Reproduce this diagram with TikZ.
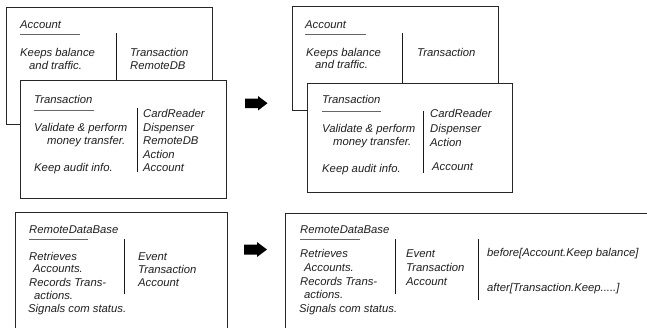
\documentclass[tikz,border=0pt]{standalone}
\usepackage{fontspec}
\setmainfont{Liberation Sans}
\begin{document}
\begin{tikzpicture}[x=1pt,y=-1pt,
  card/.style={draw=black!85, line width=0.9pt, fill=white},
  txt/.style={anchor=base west, inner sep=0pt, font=\fontsize{11.3}{13}\selectfont\itshape, text=black!88},
  rulebar/.style={draw=black!60, line width=0.8pt},
  divider/.style={draw=black!90, line width=0.9pt},
  blockarrow/.style={fill=black}]
\useasboundingbox (0,0) rectangle (647,327);
\fill[white] (0,0) rectangle (647,327);

% ---------- top left: Account ----------
\path[card] (6,7) rectangle (212,124);
\node[txt] (accA) at (20,28) {Account};
\draw[rulebar] (20,34) -- (80,34);
\node[txt] (accA1) at (20,56) {Keeps balance};
\node[txt] (accA2) at (29,69) {and traffic.};
\draw[divider] (116,33) -- (116,83);
\node[txt] (accA3) at (130,56) {Transaction};
\node[txt] (accA4) at (130,69) {RemoteDB};

% ---------- top left: Transaction ----------
\path[card] (20,80) rectangle (226,198);
\node[txt] (trA) at (34,103) {Transaction};
\draw[rulebar] (34,110) -- (94,110);
\node[txt] (trA1) at (34,131) {Validate \& perform};
\node[txt] (trA2) at (47,144) {money transfer.};
\node[txt] (trA3) at (34,171) {Keep audit info.};
\draw[divider] (137,108) -- (137,172);
\node[txt] (trA4) at (143,117) {CardReader};
\node[txt] (trA5) at (143,131) {Dispenser};
\node[txt] (trA6) at (143,144) {RemoteDB};
\node[txt] (trA7) at (143,158) {Action};
\node[txt] (trA8) at (143,171) {Account};

% ---------- top right: Account ----------
\path[card] (292,6) rectangle (498,110);
\node[txt] (accB) at (305,28) {Account};
\draw[rulebar] (305,34) -- (366,34);
\node[txt] (accB1) at (306,56) {Keeps balance};
\node[txt] (accB2) at (315,68) {and traffic.};
\draw[divider] (402,33) -- (402,83);
\node[txt] (accB3) at (417,56) {Transaction};

% ---------- top right: Transaction ----------
\path[card] (307,83) rectangle (512,192);
\node[txt] (trB) at (322,103) {Transaction};
\draw[rulebar] (322,111) -- (381,111);
\node[txt] (trB1) at (322,132) {Validate \& perform};
\node[txt] (trB2) at (333,145) {money transfer.};
\node[txt] (trB3) at (322,172) {Keep audit info.};
\draw[divider] (423,111) -- (423,173);
\node[txt] (trB4) at (430,117) {CardReader};
\node[txt] (trB5) at (430,132) {Dispenser};
\node[txt] (trB6) at (430,146) {Action};
\node[txt] (trB7) at (432,170) {Account};

% ---------- bottom left: RemoteDataBase ----------
\path[card] (15,212) rectangle (227,340);
\node[txt] (rdA) at (29,233) {RemoteDataBase};
\draw[rulebar] (29,239) -- (88,239);
\node[txt] (rdA1) at (29,260) {Retrieves};
\node[txt] (rdA2) at (33,272) {Accounts.};
\node[txt] (rdA3) at (29,286) {Records Trans-};
\node[txt] (rdA4) at (34,299) {actions.};
\node[txt] (rdA5) at (28,312) {Signals com status.};
\draw[divider] (124,239) -- (124,294);
\node[txt] (rdA6) at (138,260) {Event};
\node[txt] (rdA7) at (138,273) {Transaction};
\node[txt] (rdA8) at (138,286) {Account};

% ---------- bottom right: RemoteDataBase ----------
\path[card] (285,213) rectangle (660,340);
\node[txt] (rdB) at (300,233) {RemoteDataBase};
\draw[rulebar] (300,239) -- (360,239);
\node[txt] (rdB1) at (300,257) {Retrieves};
\node[txt] (rdB2) at (304,271) {Accounts.};
\node[txt] (rdB3) at (300,285) {Records Trans-};
\node[txt] (rdB4) at (304,298) {actions.};
\node[txt] (rdB5) at (299,312) {Signals com status.};
\draw[divider] (395,239) -- (395,294);
\node[txt] (rdB6) at (406,257) {Event};
\node[txt] (rdB7) at (406,271) {Transaction};
\node[txt] (rdB8) at (406,285) {Account};
\draw[divider] (478,239) -- (478,300);
\node[txt] (rdB9) at (487,256) {before[Account.Keep balance]};
\node[txt] (rdB10) at (487,291) {after[Transaction.Keep.....]};

% ---------- block arrows ----------
\fill[blockarrow] (245,98.5) -- (258,98.5) -- (258,96) -- (267.5,103.2) -- (258,110.5) -- (258,108) -- (245,108) -- cycle;
\fill[blockarrow] (244,244.5) -- (257,244.5) -- (257,242) -- (267,249.5) -- (257,257) -- (257,254.5) -- (244,254.5) -- cycle;
\end{tikzpicture}
\end{document}
